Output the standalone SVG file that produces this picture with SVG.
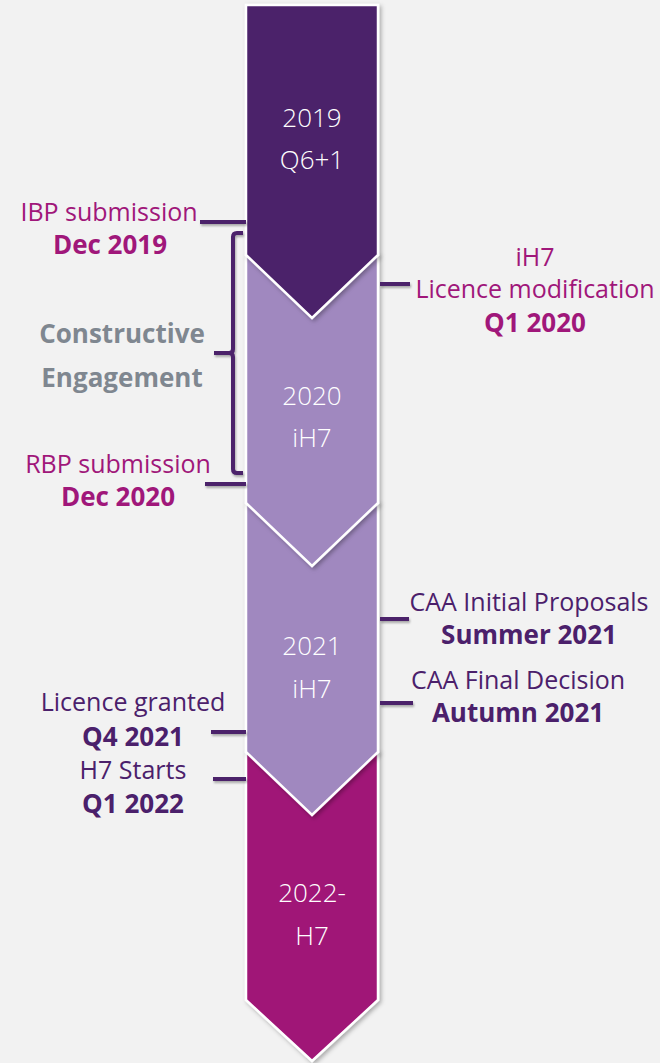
<svg xmlns="http://www.w3.org/2000/svg" width="660" height="1063" viewBox="0 0 660 1063">
<defs>
<filter id="sh" x="-20%" y="-20%" width="140%" height="140%">
<feDropShadow dx="2" dy="2" stdDeviation="2" flood-color="#000" flood-opacity="0.3"/>
</filter>
<filter id="lsh" filterUnits="userSpaceOnUse" x="0" y="0" width="660" height="1063">
<feDropShadow dx="1" dy="2" stdDeviation="1.2" flood-color="#000" flood-opacity="0.3"/>
</filter>
<style>
.seg{stroke:#fff;stroke-width:2.5;stroke-linejoin:miter;filter:url(#sh)}
.ct{font-family:"Open Sans","Noto Sans",sans-serif;font-weight:300;font-size:26px;fill:#fff;text-anchor:middle}
.lb{font-family:"Open Sans","Noto Sans",sans-serif;font-size:25px;text-anchor:middle}
.b{font-weight:bold;font-size:26px}
.mg{fill:#A0177A}
.dp{fill:#4B206B}
.gr{fill:#7F8790}
.con{stroke:#4B206B;stroke-width:4;fill:none;filter:url(#lsh)}
</style>
</defs>
<rect width="660" height="1063" fill="#F2F2F2"/>
<g id="seg4">
<path class="seg" fill="#A01477" d="M246,752 H378 V1000 L312,1061 L246,1000 Z"/>
<text class="ct" x="312" y="902">2022-</text>
<text class="ct" x="312" y="945">H7</text>
</g>
<g id="seg3">
<path class="seg" fill="#A088BF" d="M246,503 H378 V752 L312,815 L246,752 Z"/>
<text class="ct" x="312" y="655">2021</text>
<text class="ct" x="312" y="698">iH7</text>
</g>
<g id="seg2">
<path class="seg" fill="#A088BF" d="M246,255 H378 V503 L312,566 L246,503 Z"/>
<text class="ct" x="312" y="405">2020</text>
<text class="ct" x="312" y="447">iH7</text>
</g>
<g id="seg1">
<path class="seg" fill="#4B206B" d="M246,5 H378 V255 L312,318 L246,255 Z"/>
<text class="ct" x="312" y="127">2019</text>
<text class="ct" x="312" y="169">Q6+1</text>
</g>
<g id="connectors">
<path class="con" d="M200,222 H246"/>
<path class="con" d="M205,484 H246"/>
<path class="con" d="M380,284 H410"/>
<path class="con" d="M380,619 H409"/>
<path class="con" d="M380,703 H413"/>
<path class="con" d="M211,732 H246"/>
<path class="con" d="M213,779 H246"/>
<path class="con" d="M243,233 H237 Q233,233 233,237 V349 Q233,353 229,353 H214 M229,353 Q233,353 233,357 V469 Q233,473 237,473 H243"/>
</g>
<g id="ibp">
<text class="lb mg" x="109" y="221">IBP submission</text>
<text class="lb mg b" x="110" y="254">Dec 2019</text>
</g>
<g id="ce">
<text class="lb gr b" x="122" y="343">Constructive</text>
<text class="lb gr b" x="122" y="387">Engagement</text>
</g>
<g id="rbp">
<text class="lb mg" x="118" y="473">RBP submission</text>
<text class="lb mg b" x="118" y="506">Dec 2020</text>
</g>
<g id="licmod">
<text class="lb mg" x="535" y="266">iH7</text>
<text class="lb mg" x="535" y="298">Licence modification</text>
<text class="lb mg b" x="535" y="332">Q1 2020</text>
</g>
<g id="caaip">
<text class="lb dp" x="529" y="611">CAA Initial Proposals</text>
<text class="lb dp b" x="529" y="644">Summer 2021</text>
</g>
<g id="caafd">
<text class="lb dp" x="518" y="689">CAA Final Decision</text>
<text class="lb dp b" x="518" y="722">Autumn 2021</text>
</g>
<g id="licgr">
<text class="lb dp" x="133" y="711">Licence granted</text>
<text class="lb dp b" x="133" y="746">Q4 2021</text>
</g>
<g id="h7">
<text class="lb dp" x="133" y="779">H7 Starts</text>
<text class="lb dp b" x="133" y="813">Q1 2022</text>
</g>
</svg>
